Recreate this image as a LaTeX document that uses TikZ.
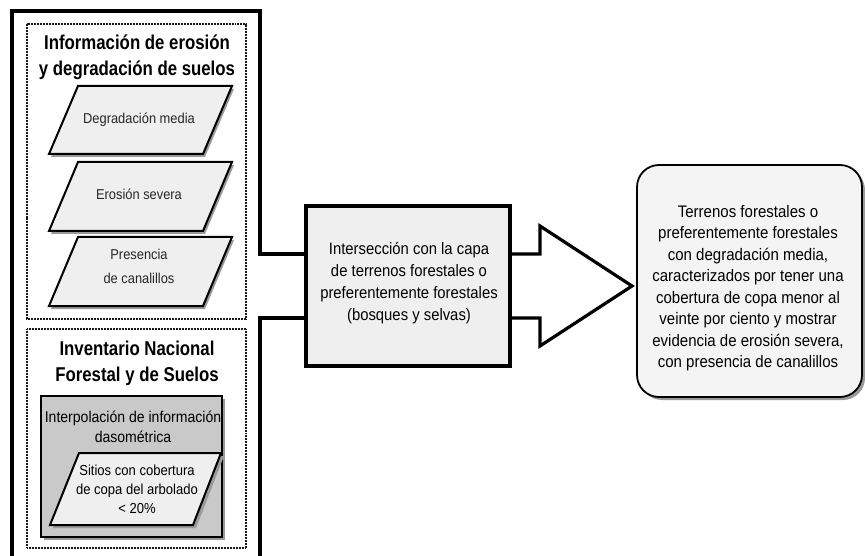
\documentclass[tikz,border=0pt]{standalone}
\usepackage{fontspec}
\setmainfont{Liberation Sans}
\newfontfamily\titlefont{Liberation Sans}[FakeStretch=0.84]
\newfontfamily\bodyfont{Liberation Sans}[FakeStretch=0.9]
\definecolor{lightfill}{HTML}{EFEFEF}
\definecolor{midgray}{HTML}{C9C9C9}
\begin{document}
\begin{tikzpicture}[x=1pt,y=-1pt,
  heavy/.style={line width=3.2pt,line join=miter},
  dotframe/.style={line width=1.3pt,dash pattern=on 1pt off 0.5pt,black!90},
  shapeline/.style={line width=2pt,line join=miter},
  shadowfill/.style={fill=black!40},
  title/.style={font=\titlefont\bfseries\fontsize{20}{26}\selectfont,align=center,inner sep=0pt},
  paratext/.style={font=\bodyfont\fontsize{14.3}{24}\selectfont,align=center,inner sep=0pt,text=black!85},
  bodytext/.style={font=\bodyfont\fontsize{16.5}{21.8}\selectfont,align=center,inner sep=0pt}]
\useasboundingbox (0,0) rectangle (865,556);

% dotted inner frames
\draw[dotframe] (27,24) rectangle (246,319);
\draw[dotframe] (27,329) rectangle (246,548);

% titles
\node[title] (t1) at (137,57) {Información de erosión\\y degradación de suelos};
\node[title] (t2) at (137,363) {Inventario Nacional\\Forestal y de Suelos};

% parallelograms (upper frame)
\foreach \yt/\yb in {86/154,162/231,237/306}{
  \fill[shadowfill] (80,\yt+3) -- (234,\yt+3) -- (205,\yb+3) -- (51,\yb+3) -- cycle;
  \filldraw[shapeline,fill=lightfill] (78,\yt) -- (232,\yt) -- (203,\yb) -- (49,\yb) -- cycle;
}
\node[paratext] (p1) at (139,120) {Degradación media};
\node[paratext] (p2) at (139,194) {Erosión severa};
\node[paratext] (p3) at (139,266) {Presencia\\de canalillos};

% gray box
\fill[shadowfill] (44,399) rectangle (225,540);
\filldraw[shapeline,fill=midgray] (41,396) rectangle (222,537);
\node[bodytext,font=\bodyfont\fontsize{15.6}{20}\selectfont] (g) at (133,427) {Interpolación de información\\dasométrica};
\fill[shadowfill] (82,456) -- (224,456) -- (196,528) -- (53,528) -- cycle;
\filldraw[shapeline,fill=lightfill] (79,453) -- (221,453) -- (193,525) -- (50,525) -- cycle;
\node[paratext,font=\bodyfont\fontsize{14.5}{19}\selectfont,text=black] (p4) at (137,489) {Sitios con cobertura\\de copa del arbolado\\< 20\%};

% middle box
\node[draw,heavy,fill=lightfill,minimum width=204pt,minimum height=160pt,inner sep=0pt] (mid) at (408,286) {};
\node[bodytext] (midtext) at (409,283) {Intersección con la capa\\de terrenos forestales o\\preferentemente forestales\\(bosques y selvas)};

% right rounded box
\fill[shadowfill,rounded corners=22pt] (640,168) rectangle (865,400);
\node[draw,line width=1.8pt,rounded corners=22pt,fill=lightfill!70!white,minimum width=225pt,minimum height=232pt,inner sep=0pt] (res) at (749.5,281) {};
\node[bodytext,font=\bodyfont\fontsize{16.7}{21.5}\selectfont] (restext) at (748,288) {Terrenos forestales o\\preferentemente forestales\\con degradación media,\\caracterizados por tener una\\cobertura de copa menor al\\veinte por ciento y mostrar\\evidencia de erosión severa,\\con presencia de canalillos};

% connector points
\coordinate (ul) at (mid.west |- 0,254);
\coordinate (ll) at (mid.west |- 0,318);
\coordinate (ur) at (mid.east |- 0,254);
\coordinate (lr) at (mid.east |- 0,318);
\coordinate (tipa) at (540,226);
\coordinate (tip) at (632,286);
\coordinate (tipb) at (540,346);

% outer frame lines
\draw[heavy] (ul) -- (260,254) -- (260,11) -- (12,11) -- (12,560);
\draw[heavy] (ll) -- (260,318) -- (260,560);

% big open arrow
\draw[heavy] (ur) -- (540,254) -- (tipa) -- (tip) -- (tipb) -- (540,318) -- (lr);
\end{tikzpicture}
\end{document}
